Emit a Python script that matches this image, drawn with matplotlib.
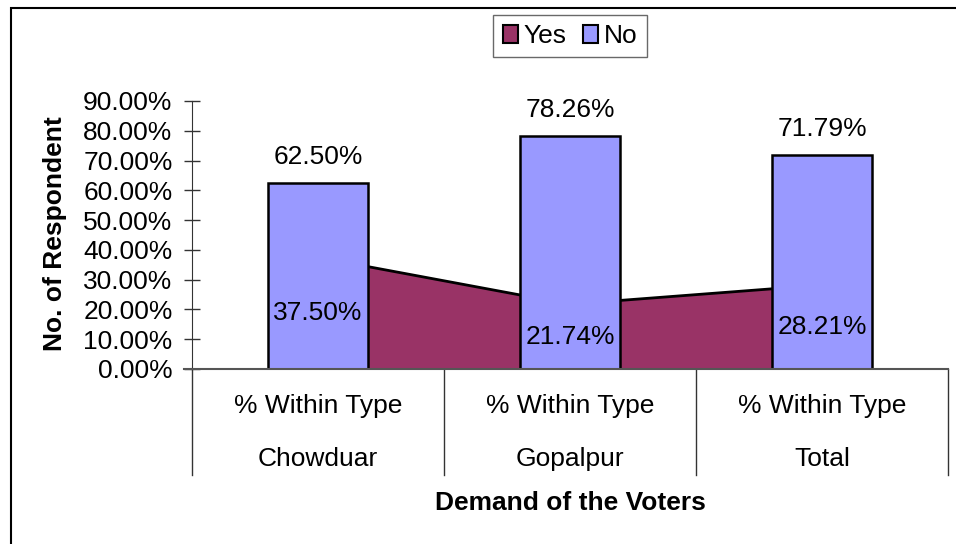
"""
demand of the voters: yes (area) vs no (bars), excel style combo chart
"""
import numpy as np
import matplotlib as mpl
mpl.use('Agg')
import matplotlib.pyplot as plt
from matplotlib.patches import Rectangle, Patch
from matplotlib.ticker import PercentFormatter
import matplotlib.transforms as mtransforms

# data
places = ['Chowduar', 'Gopalpur', 'Total']
row_label = '% Within Type'
yes_pct = [37.50, 21.74, 28.21]
no_pct = [62.50, 78.26, 71.79]
y_ticks = [0, 10, 20, 30, 40, 50, 60, 70, 80, 90]

plt.rcParams['font.family'] = ['Liberation Sans', 'DejaVu Sans']
fs = 19

yes_color = '#993366'
no_color = '#9999ff'

fig = plt.figure(figsize=(9.56, 5.44), dpi=100)
W, H = 956, 544
ax = fig.add_axes([192/W, 1 - 369/H, (948 - 192)/W, (369 - 101)/H])

x = np.arange(len(places))

# yes series as an area between category centres, behind the bars
ax.fill_between(x, 0, yes_pct, color=yes_color, zorder=1, linewidth=0)
ax.plot(x, yes_pct, color='black', lw=2, zorder=1.5, solid_capstyle='butt')

ax.bar(x, no_pct, width=0.40, color=no_color, edgecolor='black',
       linewidth=1.8, zorder=2)

for xi, v in zip(x, no_pct):
    ax.annotate('%.2f%%' % v, (xi, v), xytext=(0, 10),
                textcoords='offset points', ha='center', va='bottom',
                fontsize=fs)
for xi, v in zip(x, yes_pct):
    ax.text(xi, v/2, '%.2f%%' % v, ha='center', va='center',
            fontsize=fs, zorder=3)

ax.set_xlim(-0.5, len(places) - 0.5)
ax.set_ylim(0, 90)
ax.set_yticks(y_ticks)
ax.yaxis.set_major_formatter(PercentFormatter(decimals=2))
ax.tick_params(axis='y', direction='inout', length=11, width=1,
               labelsize=fs, pad=8.5, color='#333333')
ax.set_xticks([])

for s in ['top', 'right']:
    ax.spines[s].set_visible(False)
ax.spines['left'].set_color('#333333')
ax.spines['bottom'].set_color('#555555')
ax.spines['bottom'].set_linewidth(1.5)
# zero line extends past the value axis like the tick
ax.plot([-0.5 - 8/252, -0.5], [0, 0], color='#555555', lw=1.5,
        clip_on=False)

# category dividers and two-row labels
trans = mtransforms.blended_transform_factory(ax.transData, ax.transAxes)
for b in np.arange(len(places) + 1) - 0.5:
    ax.plot([b, b], [0, -(475 - 369)/268], color='#333333', lw=1,
            transform=trans, clip_on=False)
for xi, name in zip(x, places):
    ax.text(xi, -(406 - 369)/268, row_label, transform=trans,
            ha='center', va='center', fontsize=fs)
    ax.text(xi, -(459 - 369)/268, name, transform=trans,
            ha='center', va='center', fontsize=fs)

fig.text(570/W, 1 - 503/H, 'Demand of the Voters', ha='center',
         va='center', fontsize=fs, fontweight='bold')
fig.text(55/W, 1 - 234/H, 'No. of Respondent', ha='center', va='center',
         rotation=90, fontsize=fs, fontweight='bold')

handles = [Patch(facecolor=yes_color, edgecolor='black', lw=1.5),
           Patch(facecolor=no_color, edgecolor='black', lw=1.5)]
leg = fig.legend(handles, ['Yes', 'No'], loc='center',
                 bbox_to_anchor=(570/W, 1 - 36/H), ncol=2, fontsize=fs,
                 frameon=True, fancybox=False, borderpad=0.35,
                 handlelength=0.6, handleheight=0.7, handletextpad=0.2,
                 columnspacing=0.6, borderaxespad=0)
leg.get_frame().set_edgecolor('#444444')
leg.get_frame().set_linewidth(1)

# outer chart border, open to the right and bottom of the picture
fig.patches.append(Rectangle((11/W, -0.1), 1.2, 1.1 - 8/H, fill=False,
                             edgecolor='black', lw=1.5,
                             transform=fig.transFigure, figure=fig))

fig.savefig('out.png', dpi=100)
